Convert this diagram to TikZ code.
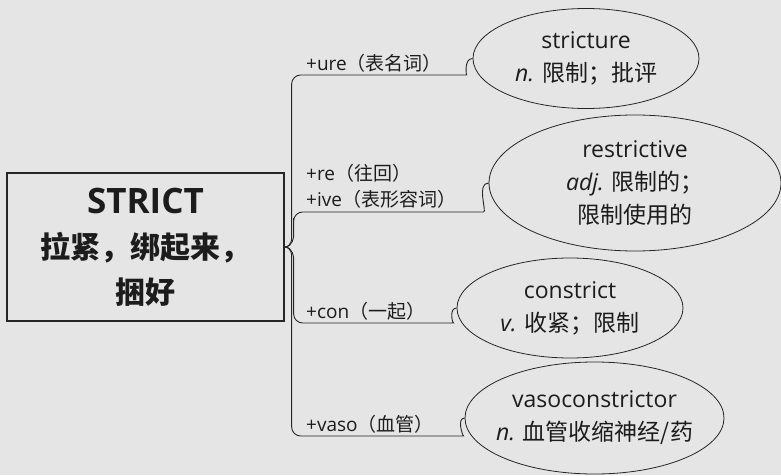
\documentclass[tikz,border=0pt]{standalone}
\usepackage{fontspec}
\setmainfont{Open Sans}
\newfontfamily\cjk{Noto Sans CJK SC}
\usetikzlibrary{shapes.geometric,calc}
\definecolor{bg}{HTML}{E5E5E5}
\definecolor{ink}{HTML}{1C1C1C}
\definecolor{stroke}{HTML}{262626}

\begin{document}
\begin{tikzpicture}[
  x=1pt, y=1pt,
  root/.style={draw=stroke, line width=1.3pt, minimum width=277pt, minimum height=148pt, align=center, text=ink, font=\fontsize{30}{45}\selectfont\bfseries},
  leaf/.style={draw=stroke, line width=0.8pt, ellipse, inner sep=0pt},
  word/.style={align=center, text=ink, font=\fontsize{23}{33}\selectfont},
  tag/.style={anchor=south west, align=left, text=ink, inner sep=2pt, font=\fontsize{19}{26}\selectfont},
  link/.style={draw=stroke, line width=0.9pt, rounded corners=9pt},
]
\useasboundingbox[fill=bg] (0,0) rectangle (781,475);

% root word
\node[root] (strict) at (145.5,228)
  {{\fontsize{35}{45}\selectfont STRICT}\\{\cjk 拉紧，绑起来，}\\{\cjk 捆好}};

% derived words
\node[leaf, minimum width=226pt, minimum height=100pt] (e1) at (586,416.5) {};
\node[word] (w1) at (e1) {stricture\\{\itshape n.} {\cjk 限制；批评}};
\node[leaf, minimum width=292pt, minimum height=136pt] (e2) at (635,292) {};
\node[word] (w2) at (e2) {restrictive\\{\itshape adj.} {\cjk 限制的；}\\{\cjk 限制使用的}};
\node[leaf, minimum width=226pt, minimum height=100pt] (e3) at (570,167) {};
\node[word] (w3) at (e3) {constrict\\{\itshape v.} {\cjk 收紧；限制}};
\node[leaf, minimum width=259pt, minimum height=112pt] (e4) at (594.5,57) {};
\node[word] (w4) at (e4) {vasoconstrictor\\{\itshape n.} {\cjk 血管收缩神经/药}};

% affixes
\node[tag] (t1) at (304,400) {+ure{\cjk （表名词）}};
\node[tag] (t2) at (304,264) {+re{\cjk （往回）}\\+ive{\cjk （表形容词）}};
\node[tag] (t3) at (304,152) {+con{\cjk （一起）}};
\node[tag] (t4) at (304,39) {+vaso{\cjk （血管）}};

% branches
\draw[link] (strict.east) to[out=0,in=-90] ++(7,16) |- ([shift={(-15,-16.5)}]e1.west) to[out=0,in=180] (e1.west);
\draw[link] (strict.east) to[out=0,in=-90] ++(9,20) |- ([shift={(-14,-29)}]e2.west) to[out=0,in=180] (e2.west);
\draw[link] (strict.east) to[out=0,in=90] ++(9,-20) |- ([shift={(-12,-15)}]e3.west) to[out=0,in=180] (e3.west);
\draw[link] (strict.east) to[out=0,in=90] ++(7,-16) |- ([shift={(-10,-18)}]e4.west) to[out=0,in=180] (e4.west);
\end{tikzpicture}
\end{document}
